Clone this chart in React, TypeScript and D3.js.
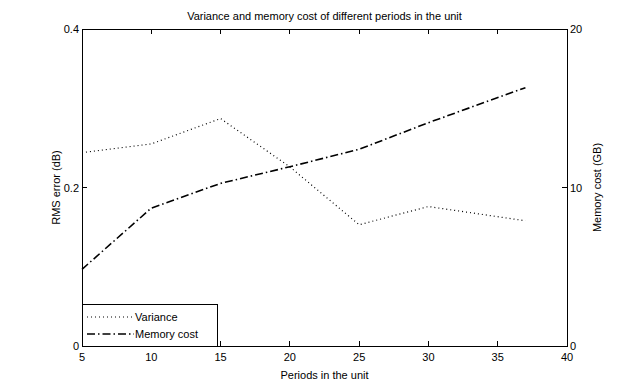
import React, { useRef, useEffect } from 'react';
import * as d3 from 'd3';

// periods in the unit (x)
const periods = [5, 10, 15, 20, 25, 30, 37];
// RMS error (dB), left axis
const variance = [0.244, 0.255, 0.287, 0.226, 0.153, 0.176, 0.158];
// memory cost (GB), right axis
const memoryCost = [4.84, 8.7, 10.26, 11.31, 12.41, 14.09, 16.3];

const xTicks = [5, 10, 15, 20, 25, 30, 35, 40];
const leftTicks = [0, 0.2, 0.4];
const rightTicks = [0, 10, 20];

const App = () => {
    const svgRef = useRef<SVGSVGElement>(null);
    const width = 627;
    const height = 389;

    useEffect(() => {
        const svg = d3.select(svgRef.current);
        svg.selectAll('*').remove();

        const marginLeft = 82;
        const marginRight = 60;
        const marginTop = 29;
        const marginBottom = 43;
        const font = '"Liberation Sans", Arial, sans-serif';

        const x = d3.scaleLinear().domain([5, 40]).range([marginLeft, width - marginRight]);
        const yL = d3.scaleLinear().domain([0, 0.4]).range([height - marginBottom, marginTop]);
        const yR = d3.scaleLinear().domain([0, 20]).range([height - marginBottom, marginTop]);

        const g = svg.append('g').attr('font-family', font).attr('font-size', 11).attr('fill', '#000');

        // Lines
        const varLine = d3.line<number>().x((_, i) => x(periods[i])).y(d => yL(d));
        const memLine = d3.line<number>().x((_, i) => x(periods[i])).y(d => yR(d));

        g.append('path')
            .attr('d', varLine(variance))
            .attr('fill', 'none')
            .attr('stroke', '#000')
            .attr('stroke-width', 1.2)
            .attr('stroke-dasharray', '1,3');

        g.append('path')
            .attr('d', memLine(memoryCost))
            .attr('fill', 'none')
            .attr('stroke', '#000')
            .attr('stroke-width', 1.6)
            .attr('stroke-dasharray', '8,3,1.5,3');

        // Box
        const x0 = x(5), x1 = x(40), y0 = yL(0), y1 = yL(0.4);
        g.append('rect')
            .attr('x', x0).attr('y', y1)
            .attr('width', x1 - x0).attr('height', y0 - y1)
            .attr('fill', 'none').attr('stroke', '#000').attr('stroke-width', 1)
            .attr('shape-rendering', 'crispEdges');

        const tickLen = 5;
        // x ticks (bottom & top, inward)
        xTicks.forEach(t => {
            g.append('line').attr('x1', x(t)).attr('x2', x(t)).attr('y1', y0).attr('y2', y0 - tickLen)
                .attr('stroke', '#000').attr('shape-rendering', 'crispEdges');
            g.append('line').attr('x1', x(t)).attr('x2', x(t)).attr('y1', y1).attr('y2', y1 + tickLen)
                .attr('stroke', '#000').attr('shape-rendering', 'crispEdges');
            g.append('text').attr('x', x(t)).attr('y', y0 + 15).attr('text-anchor', 'middle').text(t);
        });

        leftTicks.forEach(t => {
            g.append('line').attr('x1', x0).attr('x2', x0 + tickLen).attr('y1', yL(t)).attr('y2', yL(t))
                .attr('stroke', '#000').attr('shape-rendering', 'crispEdges');
            g.append('text').attr('x', x0 - 3).attr('y', yL(t) + 4).attr('text-anchor', 'end').text(t === 0 ? '0' : t.toFixed(1));
        });

        rightTicks.forEach(t => {
            g.append('line').attr('x1', x1).attr('x2', x1 - tickLen).attr('y1', yR(t)).attr('y2', yR(t))
                .attr('stroke', '#000').attr('shape-rendering', 'crispEdges');
            g.append('text').attr('x', x1 + 3).attr('y', yR(t) + 4).attr('text-anchor', 'start').text(t);
        });

        // Titles
        g.append('text').attr('x', (x0 + x1) / 2).attr('y', 20).attr('text-anchor', 'middle')
            .text('Variance and memory cost of different periods in the unit');
        g.append('text').attr('x', (x0 + x1) / 2).attr('y', y0 + 33).attr('text-anchor', 'middle')
            .text('Periods in the unit');
        g.append('text').attr('transform', `translate(60,${(y0 + y1) / 2}) rotate(-90)`).attr('text-anchor', 'middle')
            .text('RMS error (dB)');
        g.append('text').attr('transform', `translate(601,${(y0 + y1) / 2}) rotate(-90)`).attr('text-anchor', 'middle')
            .text('Memory cost (GB)');

        // Legend
        const lx = x0, ly = 304, lw = 135, lh = y0 - ly;
        const legend = g.append('g');
        legend.append('rect').attr('x', lx).attr('y', ly).attr('width', lw).attr('height', lh)
            .attr('fill', '#fff').attr('stroke', '#000').attr('shape-rendering', 'crispEdges');
        const items = [
            { label: 'Variance', dash: '1,3', w: 1.2 },
            { label: 'Memory cost', dash: '8,3,1.5,3', w: 1.6 },
        ];
        items.forEach((it, i) => {
            const cy = ly + 13 + i * 17;
            legend.append('line').attr('x1', lx + 5).attr('x2', lx + 52).attr('y1', cy).attr('y2', cy)
                .attr('stroke', '#000').attr('stroke-width', it.w).attr('stroke-dasharray', it.dash);
            legend.append('text').attr('x', lx + 53).attr('y', cy + 4).text(it.label);
        });
    }, []);

    return (
        <svg ref={svgRef} width={width} height={height}
            style={{ position: 'absolute', left: 0, top: 0, background: '#fff' }} />
    );
};

export default App;
